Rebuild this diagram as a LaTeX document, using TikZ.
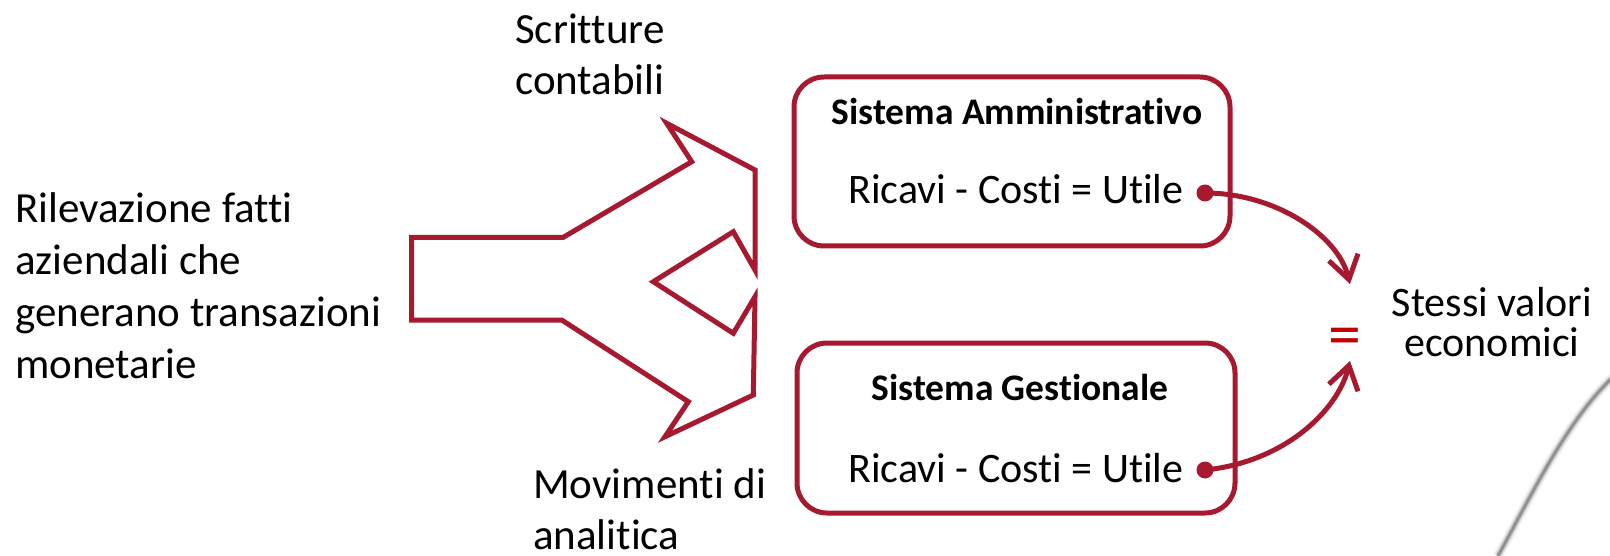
\documentclass[tikz,border=0pt]{standalone}
\usepackage{fontspec}
\setmainfont{Carlito}[Ligatures=NoCommon]
\usetikzlibrary{arrows.meta}
\definecolor{wine}{RGB}{166,25,46}
\definecolor{eqred}{RGB}{192,0,0}
\tikzset{
  lbl/.style={inner sep=0pt, font=\fontsize{43}{52}\selectfont},
  eqn/.style={inner sep=0pt, font=\fontsize{42}{50}\selectfont},
  ttl/.style={inner sep=0pt, font=\fontsize{37.5}{44}\selectfont\bfseries},
  sysbox/.style={draw=wine, line width=5pt, rounded corners=30pt, inner sep=0pt},
  dotn/.style={circle, fill=wine, inner sep=0pt, minimum size=17pt},
  link/.style={draw=wine, line width=5pt, -{Straight Barb[length=23pt,width=30pt]}},
}
\begin{document}
\begin{tikzpicture}[x=1pt,y=-1pt]
\useasboundingbox (0,0) rectangle (1610,556);
% split arrow
\draw[wine, line width=5pt, line join=miter]
  (755,270) -- (733.3,231.7) -- (653.3,281.7) -- (733.3,333.3) -- (755,296.7)
  -- (753.3,395) -- (665,436.7) -- (688.3,401.7) -- (561.7,320) -- (411.7,320)
  -- (411.7,237.3) -- (563.3,237.3) -- (691.7,161.7) -- (666.7,123.3)
  -- (755,170) -- cycle;
% texts
\node[lbl, align=left, anchor=west] (src) at (15,286) {Rilevazione fatti\\aziendali che\\generano transazioni\\monetarie};
\node[lbl, align=left, anchor=west, font=\fontsize{43}{51}\selectfont] (scr) at (515,54) {Scritture\\contabili};
\node[lbl, align=left, anchor=west, font=\fontsize{43}{51}\selectfont] (mov) at (533,509) {Movimenti di\\analitica};
% boxes
\node[sysbox, minimum width=436pt, minimum height=169pt] (b1) at (1012,161.5) {};
\node[sysbox, minimum width=438pt, minimum height=170pt] (b2) at (1016,428) {};
\node[ttl, anchor=base] (t1) at (1017,125) {Sistema Amministrativo};
\node[eqn, anchor=base] (e1) at (1016,204) {Ricavi - Costi = Utile};
\node[ttl, anchor=base] (t2) at (1020,400) {Sistema Gestionale};
\node[eqn, anchor=base] (e2) at (1016,482) {Ricavi - Costi = Utile};
\node[dotn] (d1) at (1205,193) {};
\node[dotn] (d2) at (1205,470) {};
\coordinate (tipA) at (1350,284);
\coordinate (tipB) at (1350,361);
\draw[link] (d1.center) .. controls (1275,193) and (1338,235) .. (tipA);
\draw[link] (d2.center) .. controls (1285,462) and (1338,410) .. (tipB);
\node[inner sep=0pt, text=eqred, font=\fontsize{66}{70}\selectfont] (eq) at (1345,342) {=};
\node[inner sep=0pt, align=center, font=\fontsize{42}{40}\selectfont] (res) at (1492,322) {Stessi valori\\economici};
% page curl shadow
\foreach \w/\o in {10/0.08, 7/0.15, 4.5/0.3, 2.5/0.5}
  \draw[black!60, line width=\w pt, opacity=\o] (1498,556) .. controls (1535,488) and (1568,420) .. (1612,378);
\end{tikzpicture}
\end{document}
